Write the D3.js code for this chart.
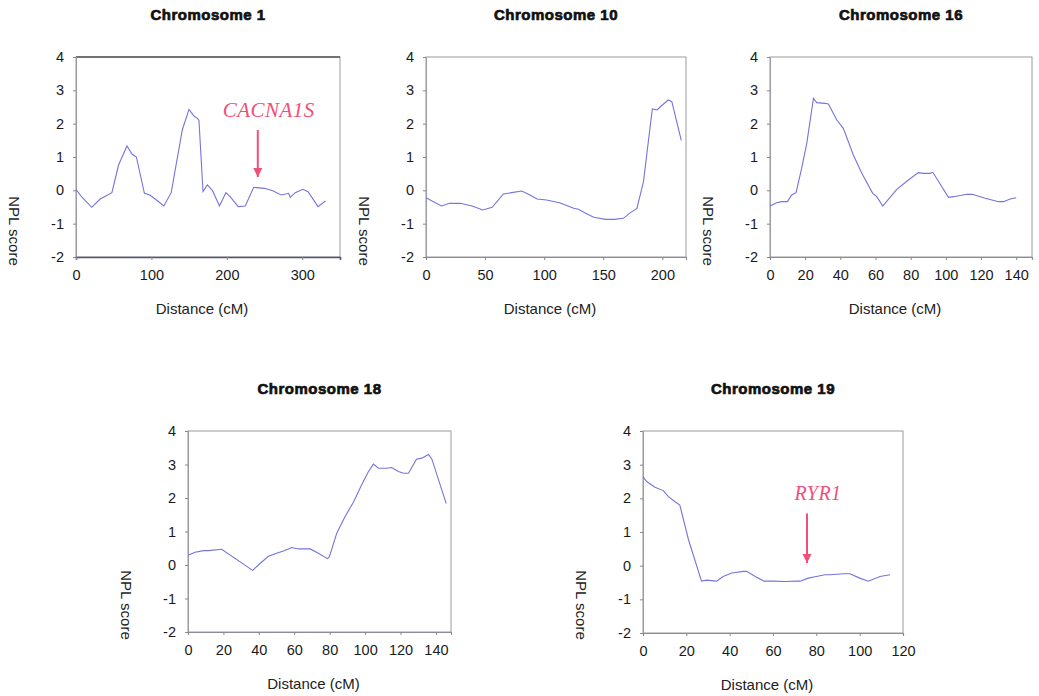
<!DOCTYPE html>
<html>
<head>
<meta charset="utf-8">
<style>
  body { margin: 0; background: #fff; }
  svg { display: block; }
  .tick text { font-family: "Liberation Sans", Arial, sans-serif; font-size: 14.5px; fill: #1a1a1a; }
</style>
</head>
<body>
<div id="chart"></div>
<script src="https://cdn.jsdelivr.net/npm/d3@7"></script>
<script>
// NPL score profiles (distance in cM, NPL score)
var chr1Dist = [0, 7.6, 20.9, 32, 47.6, 56.4, 67.6, 74.2, 80, 90.7, 97.8, 106.7, 116.4, 126.2, 140.9, 149.8, 156.4, 160.9, 163, 168.4, 174.2, 181, 190.2, 198.7, 204.4, 215, 224.4, 235.6, 249.8, 260.9, 272, 281.8, 284, 290.7, 300.9, 307.6, 320.9, 330.7];
var chr1Npl  = [0.03, -0.2, -0.51, -0.26, -0.07, 0.76, 1.33, 1.09, 1.0, -0.09, -0.14, -0.29, -0.47, -0.07, 1.81, 2.43, 2.23, 2.16, 2.1, -0.04, 0.16, -0.01, -0.47, -0.07, -0.19, -0.49, -0.47, 0.09, 0.06, -0.01, -0.14, -0.09, -0.21, -0.07, 0.03, -0.04, -0.49, -0.32];

var chr10Dist = [0, 13, 20, 29, 39, 48, 56, 65.5, 72.6, 81, 88, 94, 102, 113, 125, 129, 135, 142, 152, 159, 167, 173, 178.5, 184, 191.5, 195.5, 199, 205, 208, 216];
var chr10Npl  = [-0.22, -0.47, -0.39, -0.39, -0.47, -0.59, -0.51, -0.11, -0.07, -0.02, -0.14, -0.26, -0.29, -0.37, -0.54, -0.57, -0.69, -0.81, -0.87, -0.87, -0.84, -0.67, -0.54, 0.26, 2.44, 2.41, 2.53, 2.71, 2.66, 1.5];

var chr16Dist = [0, 3.8, 6.6, 9.9, 12.3, 14.8, 18, 20.9, 24.7, 26.6, 31.3, 33.2, 38, 41.7, 47.4, 52.2, 58.4, 60.7, 64.1, 72.1, 78.7, 84.4, 87.3, 91, 92.6, 101.5, 104.4, 112, 115, 122.4, 130, 132.8, 136.6, 140];
var chr16Npl  = [-0.47, -0.37, -0.34, -0.34, -0.14, -0.07, 0.66, 1.41, 2.76, 2.63, 2.61, 2.59, 2.11, 1.86, 1.06, 0.51, -0.09, -0.19, -0.47, 0.03, 0.31, 0.53, 0.51, 0.51, 0.54, -0.21, -0.19, -0.12, -0.12, -0.24, -0.34, -0.34, -0.26, -0.22];

var chr18Dist = [0, 4, 8.7, 11.5, 19, 36.5, 41, 45.4, 50, 53.9, 58.6, 62.3, 69, 73.6, 78.7, 79.8, 84, 88.7, 93.4, 98, 101.9, 104.7, 107.5, 112, 115, 118.8, 121.7, 124.5, 129, 132, 135.8, 137.7, 145.8];
var chr18Npl  = [0.29, 0.38, 0.43, 0.43, 0.47, -0.16, 0.06, 0.26, 0.35, 0.42, 0.52, 0.48, 0.48, 0.35, 0.19, 0.24, 0.95, 1.45, 1.87, 2.39, 2.79, 3.01, 2.89, 2.89, 2.91, 2.79, 2.74, 2.74, 3.16, 3.19, 3.3, 3.16, 1.83];

var chr19Dist = [0, 1.7, 5.5, 9.4, 11.7, 14.8, 17, 21, 27, 29.4, 34, 37, 41, 46.3, 47.8, 52, 55.8, 60.2, 65.5, 71, 72.5, 76.3, 80, 84, 86.5, 92.5, 95.5, 100, 104, 109.4, 114];
var chr19Npl  = [2.64, 2.5, 2.33, 2.23, 2.05, 1.9, 1.8, 0.77, -0.46, -0.43, -0.46, -0.32, -0.22, -0.17, -0.17, -0.33, -0.46, -0.46, -0.47, -0.46, -0.46, -0.37, -0.32, -0.27, -0.27, -0.24, -0.24, -0.37, -0.46, -0.32, -0.27];

var yTicks = [-2, -1, 0, 1, 2, 3, 4];
var chr1Ticks = [0, 100, 200, 300];
var chr10Ticks = [0, 50, 100, 150, 200];
var chr16Ticks = [0, 20, 40, 60, 80, 100, 120, 140];
var chr18Ticks = [0, 20, 40, 60, 80, 100, 120, 140];
var chr19Ticks = [0, 20, 40, 60, 80, 100, 120];

// candidate gene markers: distance, score at arrow tip, score at arrow tail
var chr1Gene = { name: "CACNA1S", dist: 241, tip: 0.4, tail: 1.81 };
var chr19Gene = { name: "RYR1", dist: 75.7, tip: 0.08, tail: 1.55 };

var lineColor = "#7474dc";
var geneColor = "#f04f78";

var panels = [
    { title: "Chromosome 1",  dist: chr1Dist,  npl: chr1Npl,  ticks: chr1Ticks,  xMax: 350, box: [76, 340, 57, 257], gene: chr1Gene, dark: true },
    { title: "Chromosome 10", dist: chr10Dist, npl: chr10Npl, ticks: chr10Ticks, xMax: 220, box: [426, 686, 57, 257] },
    { title: "Chromosome 16", dist: chr16Dist, npl: chr16Npl, ticks: chr16Ticks, xMax: 149, box: [770, 1032, 57, 257] },
    { title: "Chromosome 18", dist: chr18Dist, npl: chr18Npl, ticks: chr18Ticks, xMax: 148.5, box: [188, 451, 431, 632] },
    { title: "Chromosome 19", dist: chr19Dist, npl: chr19Npl, ticks: chr19Ticks, xMax: 120, box: [643, 903, 431, 633], gene: chr19Gene }
];

var svg = d3.select("#chart").append("svg")
    .attr("width", 1039)
    .attr("height", 696);

var defs = svg.append("defs");
defs.append("marker")
    .attr("id", "head")
    .attr("viewBox", "0 0 10 10")
    .attr("refX", 10).attr("refY", 5)
    .attr("markerWidth", 4.5).attr("markerHeight", 5)
    .attr("markerUnits", "strokeWidth")
    .attr("orient", "auto")
  .append("path")
    .attr("d", "M0,0L10,5L0,10z")
    .attr("fill", geneColor);

var plain = function (d) { return String(d); };   // hyphen minus like the original, not U+2212

panels.forEach(function (p) {
    var left = p.box[0], right = p.box[1], top = p.box[2], bottom = p.box[3];

    var x = d3.scaleLinear().domain([0, p.xMax]).range([left, right]);
    var y = d3.scaleLinear().domain([-2, 4]).range([bottom, top]);

    var g = svg.append("g");

    // plot frame
    g.append("rect")
        .attr("x", left).attr("y", top)
        .attr("width", right - left).attr("height", bottom - top)
        .attr("fill", "none")
        .attr("stroke", "#9a9a9a")
        .attr("stroke-width", 1);
    if (p.dark) {
        g.append("line").attr("x1", left).attr("x2", right).attr("y1", top).attr("y2", top)
            .attr("stroke", "#555").attr("stroke-width", 1.5);
    }

    // axes
    var yAxis = g.append("g")
        .attr("transform", "translate(" + left + ",0)")
        .call(d3.axisLeft(y).tickValues(yTicks).tickSize(3).tickPadding(9).tickFormat(plain));
    yAxis.select(".domain").attr("stroke", "#9a9aa8");
    yAxis.selectAll(".tick line").attr("stroke", "#888");

    var xAxis = g.append("g")
        .attr("transform", "translate(0," + bottom + ")")
        .call(d3.axisBottom(x).tickValues(p.ticks).tickSize(3).tickPadding(10).tickFormat(plain));
    xAxis.select(".domain").attr("stroke", p.dark ? "#55557a" : "#8c8c9a").attr("stroke-width", p.dark ? 1.6 : 1.2);
    xAxis.selectAll(".tick line").attr("stroke", "#888");

    // NPL curve
    var pts = p.dist.map(function (d, i) { return [d, p.npl[i]]; });
    g.append("path")
        .datum(pts)
        .attr("fill", "none")
        .attr("stroke", lineColor)
        .attr("stroke-width", 1.1)
        .attr("d", d3.line().x(function (d) { return x(d[0]); }).y(function (d) { return y(d[1]); }));

    // titles and axis labels
    g.append("text")
        .attr("x", (left + right) / 2)
        .attr("y", top - 37)
        .attr("text-anchor", "middle")
        .attr("font-family", "'Liberation Sans', Arial, sans-serif")
        .attr("font-weight", "bold")
        .attr("font-size", 15)
        .attr("letter-spacing", 0.5)
        .attr("stroke", "#111").attr("stroke-width", 0.7)
        .attr("fill", "#111")
        .text(p.title);

    g.append("text")
        .attr("x", (left + right) / 2 - 6)
        .attr("y", bottom + 57)
        .attr("text-anchor", "middle")
        .attr("font-family", "'Liberation Sans', Arial, sans-serif")
        .attr("font-size", 15)
        .attr("fill", "#222")
        .text("Distance (cM)");

    g.append("text")
        .attr("transform", "translate(" + (left - 62) + "," + (top + 174) + ") rotate(90)")
        .attr("text-anchor", "middle")
        .attr("dy", "0.35em")
        .attr("font-family", "'Liberation Sans', Arial, sans-serif")
        .attr("font-size", 15)
        .attr("fill", "#222")
        .text("NPL score");

    // candidate gene arrow
    if (p.gene) {
        var gx = x(p.gene.dist);
        g.append("line")
            .attr("x1", gx).attr("x2", gx)
            .attr("y1", y(p.gene.tail)).attr("y2", y(p.gene.tip))
            .attr("stroke", geneColor)
            .attr("stroke-width", 2)
            .attr("marker-end", "url(#head)");
        g.append("text")
            .attr("x", gx + 11)
            .attr("y", y(p.gene.tail) - 13)
            .attr("text-anchor", "middle")
            .attr("font-family", "'Liberation Serif', 'Times New Roman', serif")
            .attr("font-style", "italic")
            .attr("font-size", p.gene.name.length > 4 ? 21 : 20)
            .attr("letter-spacing", 0.5)
            .attr("fill", geneColor)
            .text(p.gene.name);
    }
});
</script>
</body>
</html>
